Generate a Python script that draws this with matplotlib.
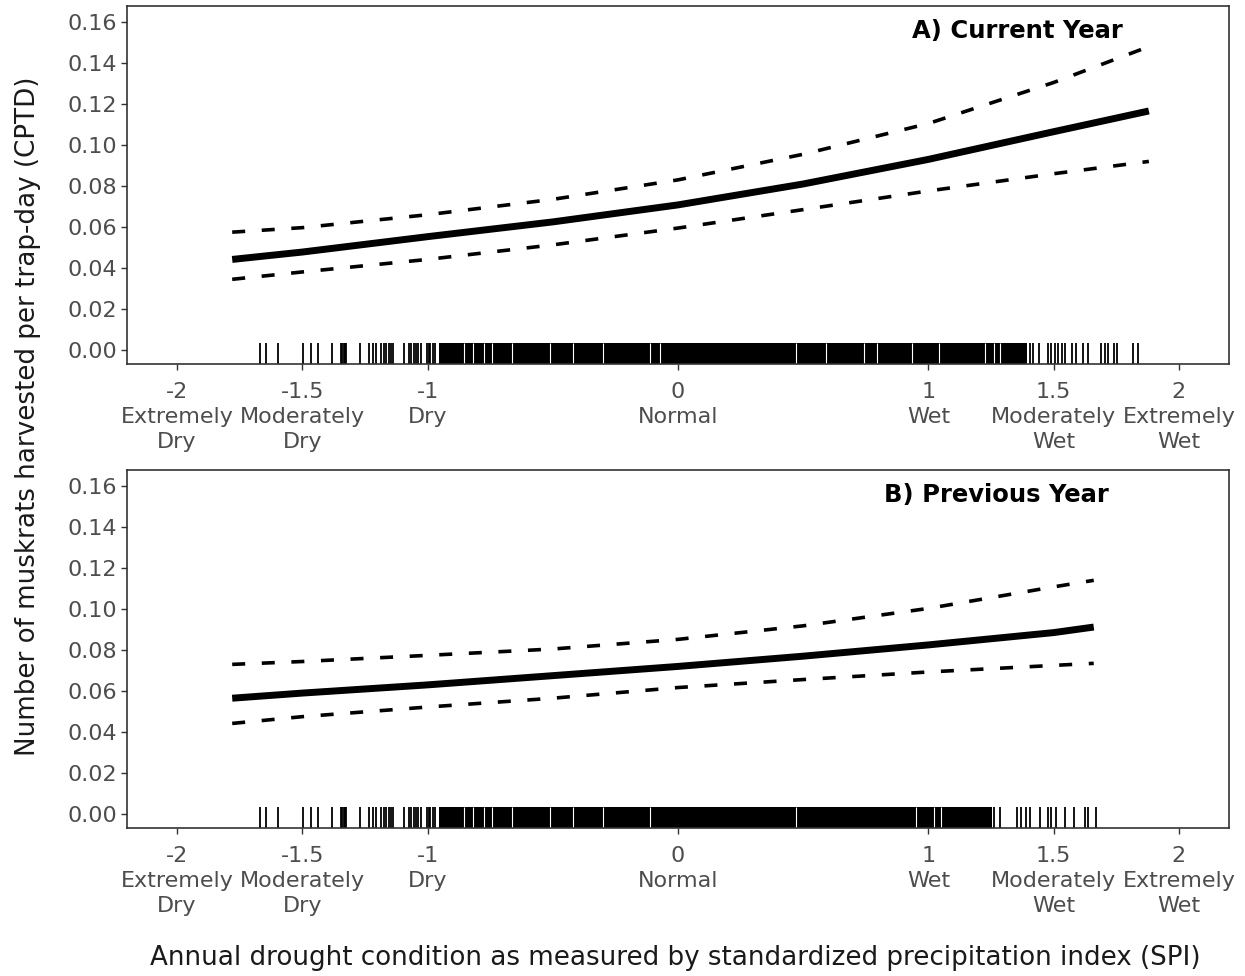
import matplotlib
matplotlib.use("Agg")
import matplotlib.pyplot as plt
import matplotlib.transforms as mtransforms

plt.rcParams['font.family'] = ['DejaVu Sans']

# x axis: SPI values with drought class names under the numbers
spi_ticks = [-2, -1.5, -1, 0, 1, 1.5, 2]
spi_tick_labels = ["-2\nExtremely\nDry", "-1.5\nModerately\nDry", "-1\nDry",
                   "0\nNormal", "1\nWet", "1.5\nModerately\nWet", "2\nExtremely\nWet"]
cptd_ticks = [0.00, 0.02, 0.04, 0.06, 0.08, 0.10, 0.12, 0.14, 0.16]

# A) current year SPI - fitted CPTD with 95% CI
spi_a = [-1.78, -1.5, -1.0, -0.5, 0.0, 0.5, 1.0, 1.5, 1.88]
fit_a = [0.0442, 0.0478, 0.0553, 0.0625, 0.0708, 0.0810, 0.0930, 0.1065, 0.1166]
upper_a = [0.0575, 0.0597, 0.0660, 0.0735, 0.0830, 0.0955, 0.1105, 0.1305, 0.1480]
lower_a = [0.0345, 0.0381, 0.0442, 0.0513, 0.0595, 0.0685, 0.0776, 0.0860, 0.0920]

# B) previous year SPI
spi_b = [-1.78, -1.5, -1.0, -0.5, 0.0, 0.5, 1.0, 1.5, 1.66]
fit_b = [0.0565, 0.0590, 0.0630, 0.0675, 0.0720, 0.0770, 0.0825, 0.0885, 0.0912]
upper_b = [0.0730, 0.0744, 0.0774, 0.0805, 0.0852, 0.0918, 0.1003, 0.1108, 0.1140]
lower_b = [0.0442, 0.0475, 0.0522, 0.0565, 0.0617, 0.0656, 0.0693, 0.0725, 0.0735]

# rug of observed SPI values: single ticks, plus the packed middle range
rug_left = [-1.667, -1.647, -1.596, -1.498, -1.465, -1.436, -1.383, -1.345, -1.340,
            -1.335, -1.330, -1.325, -1.268, -1.232, -1.219, -1.206, -1.186, -1.175,
            -1.165, -1.155, -1.147, -1.139, -1.093, -1.076, -1.066, -1.056, -1.048,
            -1.040, -1.026, -1.004, -0.996, -0.989, -0.977, -0.969, -0.840]
rug_right_a = [1.404, 1.419, 1.440, 1.476, 1.490, 1.504, 1.518, 1.533, 1.547, 1.575,
               1.589, 1.618, 1.639, 1.689, 1.703, 1.717, 1.739, 1.753, 1.817, 1.838]
rug_right_b = [1.262, 1.284, 1.355, 1.369, 1.390, 1.404, 1.447, 1.476, 1.490, 1.511,
               1.547, 1.582, 1.625, 1.639, 1.667]
packed_a = (-0.955, 1.395)
packed_b = (-0.955, 1.252)
holes_a = [-0.855, -0.819, -0.776, -0.741, -0.663, -0.513, -0.420, -0.299, -0.113,
           -0.071, 0.473, 0.590, 0.744, 0.793, 0.935, 1.042, 1.227, 1.262, 1.284]
holes_b = [-0.855, -0.819, -0.776, -0.741, -0.663, -0.513, -0.420, -0.299, -0.113,
           0.473, 0.950, 1.021, 1.049]

W, H = 1245, 976
fig = plt.figure(figsize=(W / 100, H / 100), dpi=100)

tick_grey = '#4d4d4d'
fs = 16


def panel(top_px, spi, fit, upper, lower, packed, holes, singles, title, title_x):
    ax = fig.add_axes([127 / W, 1 - (top_px + 358) / H, 1102 / W, 358 / H])
    ax.plot(spi, upper, color='black', lw=2.6, dashes=(3.6, 4.6))
    ax.plot(spi, lower, color='black', lw=2.6, dashes=(3.6, 4.6))
    ax.plot(spi, fit, color='black', lw=5, solid_capstyle='butt')

    trans = mtransforms.blended_transform_factory(ax.transData, ax.transAxes)
    ax.axvspan(packed[0], packed[1], ymin=0, ymax=0.06, color='black', lw=0)
    ax.vlines(holes, 0, 0.06, transform=trans, color='white', lw=0.8)
    ax.vlines(singles, 0, 0.06, transform=trans, color='black', lw=1.3)

    ax.set_xlim(-2.2, 2.2)
    ax.set_ylim(-0.0068, 0.1678)
    ax.set_xticks(spi_ticks)
    ax.set_xticklabels(spi_tick_labels, linespacing=1.32)
    ax.set_yticks(cptd_ticks)
    ax.set_yticklabels([f"{v:.2f}" for v in cptd_ticks])
    ax.tick_params(labelsize=fs, labelcolor=tick_grey, color='#333333',
                   length=4, width=1, pad=3)
    ax.tick_params(axis='x', pad=9)
    for s in ax.spines.values():
        s.set_color('#333333')
        s.set_linewidth(1.2)
    ax.text(title_x, 0.93, title, transform=ax.transAxes, ha='center', va='center',
            fontsize=17.5, fontweight='bold', color='black')
    return ax


panel(6, spi_a, fit_a, upper_a, lower_a, packed_a, holes_a,
      rug_left + rug_right_a, "A) Current Year", 0.808)
panel(470, spi_b, fit_b, upper_b, lower_b, packed_b, holes_b,
      rug_left + rug_right_b, "B) Previous Year", 0.789)

fig.text(28 / W, 1 - 416 / H, "Number of muskrats harvested per trap-day (CPTD)",
         rotation=90, ha='center', va='center', fontsize=18.8, color='#1a1a1a')
fig.text(675 / W, 1 - 958 / H,
         "Annual drought condition as measured by standardized precipitation index (SPI)",
         ha='center', va='center', fontsize=18.8, color='#1a1a1a')

fig.savefig("out.png", dpi=100)
